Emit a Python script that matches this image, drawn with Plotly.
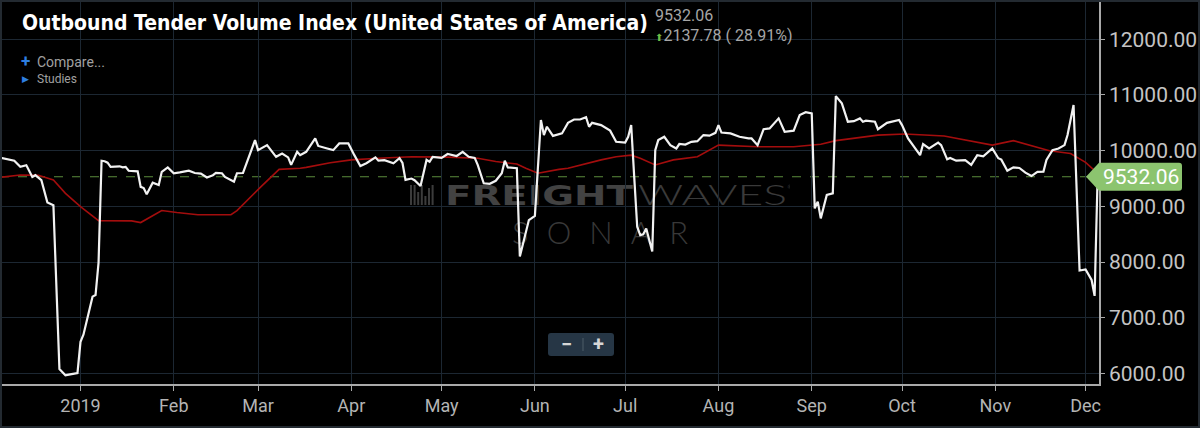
import base64

import plotly.graph_objects as go

# ---- data ----
index_dates = [
    "2018-12-05", "2018-12-08", "2018-12-10", "2018-12-12", "2018-12-14", "2018-12-16", "2018-12-17",
    "2018-12-19", "2018-12-21", "2018-12-23", "2018-12-25", "2018-12-27", "2018-12-31", "2019-01-01",
    "2019-01-02", "2019-01-05", "2019-01-06", "2019-01-07", "2019-01-08", "2019-01-09", "2019-01-10",
    "2019-01-11", "2019-01-14", "2019-01-15", "2019-01-16", "2019-01-17", "2019-01-20", "2019-01-21",
    "2019-01-22", "2019-01-23", "2019-01-25", "2019-01-27", "2019-01-28", "2019-01-30", "2019-02-01",
    "2019-02-03", "2019-02-06", "2019-02-08", "2019-02-10", "2019-02-12", "2019-02-14", "2019-02-15",
    "2019-02-17", "2019-02-18", "2019-02-21", "2019-02-22", "2019-02-24", "2019-02-28", "2019-03-01",
    "2019-03-04", "2019-03-07", "2019-03-09", "2019-03-11", "2019-03-12", "2019-03-14", "2019-03-15",
    "2019-03-17", "2019-03-20", "2019-03-21", "2019-03-24", "2019-03-26", "2019-03-28", "2019-03-31",
    "2019-04-02", "2019-04-04", "2019-04-06", "2019-04-08", "2019-04-09", "2019-04-10", "2019-04-12",
    "2019-04-15", "2019-04-17", "2019-04-18", "2019-04-19", "2019-04-21", "2019-04-22", "2019-04-24",
    "2019-04-26", "2019-04-27", "2019-04-28", "2019-05-01", "2019-05-03", "2019-05-06", "2019-05-08",
    "2019-05-10", "2019-05-12", "2019-05-13", "2019-05-15", "2019-05-17", "2019-05-19", "2019-05-21",
    "2019-05-22", "2019-05-23", "2019-05-26", "2019-05-27", "2019-05-28", "2019-05-30", "2019-06-01",
    "2019-06-03", "2019-06-04", "2019-06-05", "2019-06-07", "2019-06-10", "2019-06-12", "2019-06-14",
    "2019-06-16", "2019-06-18", "2019-06-19", "2019-06-20", "2019-06-23", "2019-06-26", "2019-06-28",
    "2019-07-01", "2019-07-02", "2019-07-03", "2019-07-04", "2019-07-05", "2019-07-06", "2019-07-07",
    "2019-07-08", "2019-07-10", "2019-07-11", "2019-07-12", "2019-07-14", "2019-07-16", "2019-07-18",
    "2019-07-19", "2019-07-21", "2019-07-23", "2019-07-25", "2019-07-27", "2019-07-29", "2019-07-31",
    "2019-08-01", "2019-08-02", "2019-08-05", "2019-08-08", "2019-08-11", "2019-08-12", "2019-08-14",
    "2019-08-16", "2019-08-18", "2019-08-21", "2019-08-23", "2019-08-26", "2019-08-28", "2019-08-30",
    "2019-09-01", "2019-09-02", "2019-09-03", "2019-09-04", "2019-09-06", "2019-09-08", "2019-09-09",
    "2019-09-11", "2019-09-13", "2019-09-15", "2019-09-17", "2019-09-18", "2019-09-19", "2019-09-22",
    "2019-09-23", "2019-09-26", "2019-09-30", "2019-10-01", "2019-10-03", "2019-10-05", "2019-10-07",
    "2019-10-08", "2019-10-10", "2019-10-13", "2019-10-14", "2019-10-16", "2019-10-17", "2019-10-19",
    "2019-10-22", "2019-10-24", "2019-10-26", "2019-10-28", "2019-10-31", "2019-11-02", "2019-11-03",
    "2019-11-05", "2019-11-07", "2019-11-09", "2019-11-11", "2019-11-13", "2019-11-15", "2019-11-17",
    "2019-11-18", "2019-11-20", "2019-11-22", "2019-11-24", "2019-11-25", "2019-11-27", "2019-11-29",
    "2019-12-01", "2019-12-03", "2019-12-04", "2019-12-05",
]
index_values = [
    9880, 9840, 9820, 9710, 9740, 9530, 9560,
    9470, 9070, 9020, 6080, 5970, 6010, 6570,
    6700, 7380, 7410, 7990, 9820, 9810, 9785,
    9710, 9720, 9700, 9710, 9640, 9630, 9350,
    9330, 9220, 9425, 9385, 9620, 9700, 9595,
    9610, 9640, 9600, 9590, 9520, 9560, 9600,
    9595, 9530, 9445, 9595, 9600, 10190, 10010,
    10100, 9890, 9950, 9880, 9745, 9980, 9920,
    9980, 10220, 10085, 10040, 10010, 10130, 10130,
    9920, 9725, 9775, 9845, 9880, 9820, 9830,
    9775, 9865, 9780, 9475, 9500, 9470, 9365,
    9835, 9800, 9890, 9870, 9940, 9905, 9980,
    9890, 9870, 9745, 9415, 9405, 9460, 9595,
    9820, 9700, 9685, 8100, 8310, 8755, 8830,
    10550, 10280, 10430, 10265, 10310, 10500, 10560,
    10560, 10600, 10430, 10500, 10460, 10360, 10160,
    10145, 10250, 10460, 9535, 8635, 8485, 8500,
    8605, 8190, 10010, 10190, 10250, 10100, 10040,
    10120, 10110, 10160, 10170, 10280, 10270, 10320,
    10460, 10325, 10310, 10250, 10220, 10220, 10100,
    10385, 10400, 10580, 10340, 10360, 10640, 10690,
    10670, 8965, 9085, 8785, 9205, 9235, 10980,
    10850, 10520, 10530, 10580, 10520, 10540, 10520,
    10385, 10500, 10550, 10460, 10220, 10070, 9920,
    10120, 10040, 10145, 10100, 9845, 9870, 9820,
    9830, 9745, 9920, 9900, 10040, 9865, 9840,
    9640, 9700, 9690, 9605, 9545, 9620, 9625,
    9835, 10010, 10040, 10100, 10280, 10820, 7850,
    7870, 7680, 7394.28, 9532.06,
]

avg_dates = [
    "2018-12-05", "2018-12-12", "2018-12-18", "2018-12-23", "2018-12-27", "2019-01-01", "2019-01-07",
    "2019-01-18", "2019-01-21", "2019-01-24", "2019-01-28", "2019-02-02", "2019-02-09", "2019-02-20",
    "2019-02-22", "2019-03-02", "2019-03-08", "2019-03-15", "2019-03-17", "2019-03-25", "2019-04-01",
    "2019-04-10", "2019-04-21", "2019-05-03", "2019-05-13", "2019-05-19", "2019-05-26", "2019-05-29",
    "2019-06-02", "2019-06-09", "2019-06-12", "2019-06-23", "2019-06-28", "2019-07-03", "2019-07-06",
    "2019-07-11", "2019-07-17", "2019-07-25", "2019-08-01", "2019-08-14", "2019-08-26", "2019-09-04",
    "2019-09-09", "2019-09-23", "2019-10-02", "2019-10-15", "2019-10-31", "2019-11-07", "2019-11-19",
    "2019-11-26", "2019-12-01", "2019-12-03", "2019-12-05",
]
avg_values = [
    9520, 9565, 9560, 9475, 9235, 8995, 8745,
    8740, 8710, 8805, 8925, 8890, 8850, 8850,
    8925, 9355, 9665, 9685, 9700, 9785, 9835,
    9865, 9890, 9885, 9865, 9805, 9760, 9685,
    9595, 9665, 9685, 9835, 9890, 9920, 9865,
    9745, 9835, 9890, 10100, 10070, 10070, 10115,
    10180, 10280, 10300, 10265, 10100, 10180, 10000,
    9950, 9790, 9690, 9600,
]

month_ticks = ["2019-01-01", "2019-02-01", "2019-03-01", "2019-04-01", "2019-05-01", "2019-06-01",
               "2019-07-01", "2019-08-01", "2019-09-01", "2019-10-01", "2019-11-01", "2019-12-01"]
month_labels = ["2019", "Feb", "Mar", "Apr", "May", "Jun", "Jul", "Aug", "Sep", "Oct", "Nov", "Dec"]
y_ticks = [6000, 7000, 8000, 9000, 10000, 11000, 12000]

TITLE = "Outbound Tender Volume Index (United States of America)"

X_RANGE = ["2018-12-05 06:00", "2019-12-05 11:00"]
Y_RANGE = [5812, 12705]

# plot area in pixels (margins l=0, t=0)
PLOT_W = 1099
PLOT_H = 384

GRID = "#1c2732"
AXIS = "#a9a9a9"
TAG_GREEN = "#8cc46f"


def px(x):
    return x / PLOT_W


def py(y):
    return (PLOT_H - y) / PLOT_H


def ypix(value):
    return PLOT_H * (Y_RANGE[1] - value) / (Y_RANGE[1] - Y_RANGE[0])


def path_from(cmds):
    out = ""
    for c in cmds:
        op = c[0]
        nums = c[1:]
        pts = []
        for i in range(0, len(nums), 2):
            pts.append("%.5f,%.5f" % (px(nums[i]), py(nums[i + 1])))
        out += op + " " + " ".join(pts) + " "
    return out + "Z"


def rounded_rect(x0, y0, x1, y1, r):
    return path_from([
        ("M", x0 + r, y0), ("L", x1 - r, y0), ("Q", x1, y0, x1, y0 + r),
        ("L", x1, y1 - r), ("Q", x1, y1, x1 - r, y1), ("L", x0 + r, y1),
        ("Q", x0, y1, x0, y1 - r), ("L", x0, y0 + r), ("Q", x0, y0, x0 + r, y0),
    ])


def watermark_svg():
    bars = ""
    heights = [20, 20, 13, 20, 9, 17, 20]
    for i, h in enumerate(heights):
        bars += '<rect x="%.1f" y="%d" width="2" height="%d"/>' % (5 + i * 3.6, 25 - h, h)
    svg = (
        '<svg xmlns="http://www.w3.org/2000/svg" width="385" height="70" viewBox="0 0 385 70">'
        '<g fill="#3c3c3c">' + bars + '</g>'
        '<text x="40" y="25" font-family="DejaVu Sans" font-weight="bold" font-size="26" '
        'textLength="188" lengthAdjust="spacingAndGlyphs" fill="#424242">FREIGHT</text>'
        '<text x="233" y="25" font-family="Lato" font-weight="300" font-size="27" '
        'textLength="149" lengthAdjust="spacingAndGlyphs" fill="#3a3a3a">WAVES</text>'
        '<text x="382" y="9" font-family="DejaVu Sans" font-size="6" fill="#3a3a3a">&#174;</text>'
        '<text x="107" y="64" font-family="Lato" font-weight="300" font-size="31" '
        'textLength="176" lengthAdjust="spacing" fill="#383838">SONAR</text>'
        '</svg>'
    )
    return "data:image/svg+xml;base64," + base64.b64encode(svg.encode("utf-8")).decode("ascii")


last = index_values[-1]
prev = index_values[-2]
change = last - prev
pct = change / prev * 100

fig = go.Figure()
fig.add_trace(go.Scatter(
    x=avg_dates, y=avg_values, mode="lines",
    line=dict(color="#a30d0d", width=1.6), hoverinfo="skip"))
fig.add_trace(go.Scatter(
    x=index_dates, y=index_values, mode="lines",
    line=dict(color="#f2f2f2", width=2.2), hoverinfo="skip"))

shapes = [
    # last value dashed line
    dict(type="line", xref="paper", yref="y", x0=0, x1=1, y0=last, y1=last, layer="between",
         line=dict(color="#5b8c3c", width=1, dash="dash")),
    # last value tag
    dict(type="path", xref="paper", yref="paper", layer="above", fillcolor=TAG_GREEN,
         line=dict(width=0),
         path=path_from([("M", 1086, ypix(last)), ("L", 1099, ypix(last) - 14), ("L", 1179, ypix(last) - 14),
                         ("Q", 1182, ypix(last) - 14, 1182, ypix(last) - 11), ("L", 1182, ypix(last) + 11),
                         ("Q", 1182, ypix(last) + 14, 1179, ypix(last) + 14), ("L", 1099, ypix(last) + 14)])),
    # zoom buttons
    dict(type="path", xref="paper", yref="paper", layer="above", fillcolor="#263645",
         line=dict(width=0), path=rounded_rect(548, 333, 614, 356, 3)),
    dict(type="line", xref="paper", yref="paper", layer="above",
         x0=px(583), x1=px(583), y0=py(338), y1=py(351), line=dict(color="#4d5c69", width=1)),
    # outer frame
    dict(type="rect", xref="paper", yref="paper", layer="above",
         x0=px(1), x1=px(1199), y0=py(427), y1=py(1), line=dict(color="#232a31", width=2)),
]

ann_base = dict(xref="paper", yref="paper", showarrow=False, yanchor="middle")
annotations = [
    dict(ann_base, x=px(20), y=py(23), xanchor="left", text=TITLE,
         font=dict(family="DejaVu Sans Condensed, Roboto", size=21, weight="bold", color="#ffffff")),
    dict(ann_base, x=px(654), y=py(15), xanchor="left", text="%.2f" % last, borderpad=0,
         font=dict(family="Roboto", size=16, color="#a6a6a6")),
    dict(ann_base, x=px(654), y=py(35), xanchor="left", borderpad=0,
         text="<span style='color:#6dbb45;font-size:10px'>⬆</span>%.2f ( %.2f%%)" % (change, pct),
         font=dict(family="Roboto, DejaVu Sans", size=16, color="#a6a6a6")),
    dict(ann_base, x=px(19), y=py(61), xanchor="left", text="<b>+</b>",
         font=dict(family="Roboto", size=17, color="#2e7fe0")),
    dict(ann_base, x=px(35), y=py(62.5), xanchor="left", text="Compare...",
         font=dict(family="Roboto", size=14, color="#a0a0a0")),
    dict(ann_base, x=px(20), y=py(79), xanchor="left", text="▶",
         font=dict(family="DejaVu Sans", size=9, color="#2e7fe0")),
    dict(ann_base, x=px(35), y=py(79), xanchor="left", text="Studies",
         font=dict(family="Roboto", size=12, color="#a0a0a0")),
    dict(ann_base, x=px(1141), y=py(ypix(last)), xanchor="center", text="%.2f" % last,
         font=dict(family="Roboto", size=21, color="#ffffff")),
    dict(ann_base, x=px(566), y=py(344), xanchor="center", text="<b>−</b>",
         font=dict(family="Roboto", size=20, color="#d6d6d6")),
    dict(ann_base, x=px(598), y=py(344), xanchor="center", text="<b>+</b>",
         font=dict(family="Roboto", size=20, color="#d6d6d6")),
]

fig.update_layout(
    width=1200, height=428,
    margin=dict(l=0, r=101, t=0, b=44, pad=0),
    paper_bgcolor="#000000", plot_bgcolor="#000000",
    showlegend=False, hovermode=False,
    shapes=shapes, annotations=annotations,
    images=[dict(source=watermark_svg(), xref="paper", yref="paper", x=px(405), y=py(180),
                 sizex=px(385), sizey=70 / PLOT_H, xanchor="left", yanchor="top",
                 sizing="stretch", layer="below")],
    xaxis=dict(range=X_RANGE, type="date", tickvals=month_ticks, ticktext=month_labels,
               automargin=False,
               showgrid=True, gridcolor=GRID, gridwidth=1, zeroline=False,
               showline=True, linecolor=AXIS, linewidth=1.5,
               ticks="outside", ticklen=5, tickcolor=AXIS, tickwidth=1,
               tickfont=dict(family="Roboto", size=18, color="#b4b4b4")),
    yaxis=dict(range=Y_RANGE, side="right", tickvals=y_ticks, ticktext=["%.2f" % v for v in y_ticks],
               automargin=False,
               showgrid=True, gridcolor=GRID, gridwidth=1, zeroline=False,
               showline=True, linecolor=AXIS, linewidth=1.5,
               ticks="outside", ticklen=4, tickcolor=AXIS, tickwidth=1,
               tickfont=dict(family="Roboto", size=21, color="#c4c4c4")),
)

# drop the browser's default 8px body margin so the figure sits at the page corner
fig.write_html("out.html", config={"displayModeBar": False},
               post_script="document.body.style.margin='0px';document.body.style.background='#000';")
